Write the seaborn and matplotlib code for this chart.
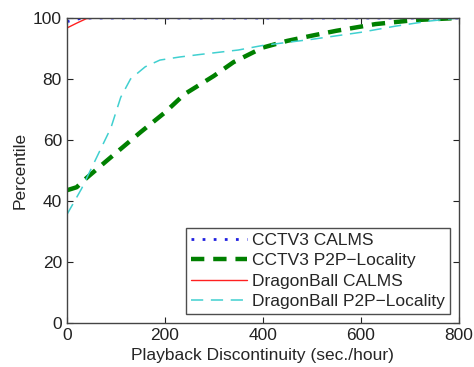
import pandas as pd
import seaborn as sns
import matplotlib.pyplot as plt

# values
cctv3_calms_x = [0, 10, 20, 30, 50, 100, 200, 400, 600, 800]
cctv3_calms_y = [98.8, 99.2, 99.6, 99.9, 100, 100, 100, 100, 100, 100]

cctv3_p2p_x = [0, 20, 40, 80, 150, 200, 240, 300, 340, 400, 450, 500, 550, 630, 710, 760, 800]
cctv3_p2p_y = [43.5, 44.5, 47.5, 53, 62.5, 69, 75, 81, 85.5, 90.3, 92.5, 94.2, 95.8, 98, 99.3, 99.7, 100]

dragon_calms_x = [0, 20, 40, 60, 100, 200, 400, 600, 800]
dragon_calms_y = [96.7, 98.3, 99.8, 100, 100, 100, 100, 100, 100]

dragon_p2p_x = [0, 30, 60, 90, 110, 130, 160, 190, 230, 270, 350, 400, 500, 600, 670, 740, 800]
dragon_p2p_y = [35.5, 44, 54, 64, 74, 80, 84, 86.2, 87.2, 88, 89.5, 91, 93, 95.3, 97.3, 99, 100]

series_names = ["CCTV3 CALMS", "CCTV3 P2P\u2212Locality", "DragonBall CALMS", "DragonBall P2P\u2212Locality"]

sns.set_style("white")
plt.rcParams['font.family'] = ['Liberation Sans', 'DejaVu Sans']

fig, ax = plt.subplots(figsize=(4.74, 3.67), dpi=100)

sns.lineplot(x=cctv3_calms_x, y=cctv3_calms_y, ax=ax, color="#2020e0",
             linestyle=(0, (1, 3)), linewidth=2, label=series_names[0])
sns.lineplot(x=cctv3_p2p_x, y=cctv3_p2p_y, ax=ax, color="#008000",
             linestyle=(0, (3, 2)), linewidth=3.2, label=series_names[1])
sns.lineplot(x=dragon_calms_x, y=dragon_calms_y, ax=ax, color="#ff2020",
             linestyle="-", linewidth=1, label=series_names[2])
sns.lineplot(x=dragon_p2p_x, y=dragon_p2p_y, ax=ax, color="#40d0d0",
             linestyle=(0, (8, 5)), linewidth=1.1, label=series_names[3])

ax.set_xlim(0, 800)
ax.set_ylim(0, 100)
ax.set_xticks([0, 200, 400, 600, 800])
ax.set_yticks([0, 20, 40, 60, 80, 100])
ax.tick_params(direction="in", length=4, labelsize=12.5, top=True, right=True,
               bottom=True, left=True, colors="#222222")
ax.set_xlabel("Playback Discontinuity (sec./hour)", fontsize=12.5)
ax.set_ylabel("Percentile", fontsize=12.5)
for s in ax.spines.values():
    s.set_color("#444444")
    s.set_linewidth(1)

leg = ax.legend(loc="lower right", fontsize=12.5, frameon=True, fancybox=False,
                borderpad=0.3, labelspacing=0.3, handlelength=3.2, handletextpad=0.3,
                borderaxespad=0.5)
leg.get_frame().set_edgecolor("#222222")
leg.get_frame().set_linewidth(1)

plt.subplots_adjust(left=0.141, right=0.968, top=0.951, bottom=0.12)
plt.savefig("out.png", dpi=100)
